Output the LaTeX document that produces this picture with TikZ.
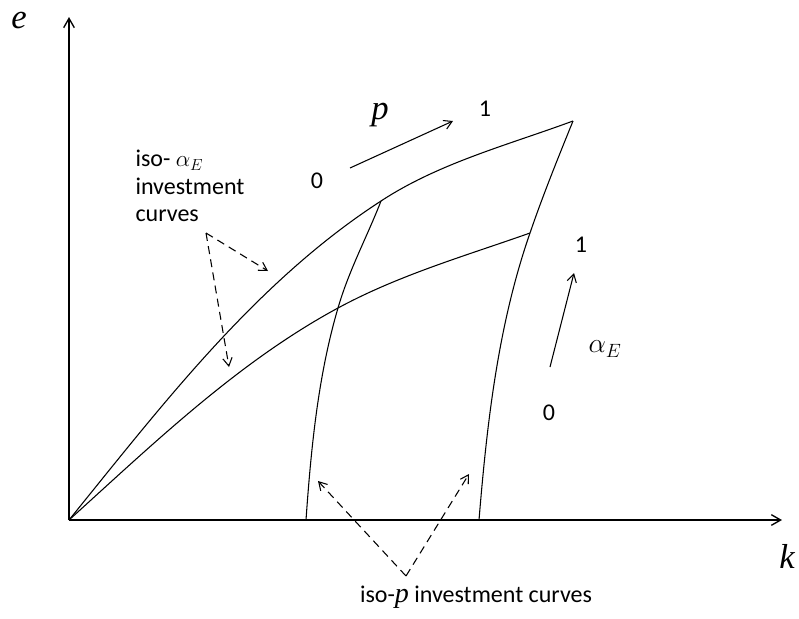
\documentclass[tikz,border=0pt]{standalone}
\usepackage[no-math]{fontspec}
\setmainfont{Carlito}
\newfontfamily\varfont{Liberation Serif}
\usetikzlibrary{arrows.meta}
\tikzset{
  every picture/.style={line width=0.8pt},
  axis/.style={-{Straight Barb[length=7pt,width=8pt]}, line width=1pt},
  curve/.style={line width=0.8pt},
  move/.style={-{Straight Barb[length=6pt,width=7pt]}, line width=0.8pt},
  pointer/.style={dash pattern=on 6pt off 4pt, -{Straight Barb[length=6pt,width=7pt]}, line width=0.8pt},
  lbl/.style={font=\fontsize{18}{20.5}\selectfont, inner sep=0pt},
  var/.style={font=\fontsize{26}{30}\varfont\itshape, inner sep=0pt},
}

\begin{document}
\begin{tikzpicture}[x=0.75pt, y=-0.75pt]
  \useasboundingbox (0,0) rectangle (799,618);
  % axes
  \coordinate (O) at (69,520);
  \coordinate (ytop) at (69,17);
  \coordinate (xend) at (782,520);
  \draw[axis] (O) -- (ytop);
  \draw[axis] (O) -- (xend);
  \node[var] (e) at (19,20) {e};
  \node[var] (k) at (787,556) {k};
  % corners of the mesh
  \coordinate (top) at (573,121);
  \coordinate (ul) at (381,201);
  \coordinate (ll) at (338,308);
  \coordinate (lr) at (530,233);
  \coordinate (bl) at (306,520);
  \coordinate (br) at (479,520);
  % iso-alpha curves
  \draw[curve] (O) .. controls (163,404) and (256,282) .. (ul)
                   .. controls (439,163) and (508,145) .. (top);
  \draw[curve] (O) .. controls (153,444) and (238,362) .. (ll)
                   .. controls (399,275) and (465,256) .. (lr);
  % iso-p curves
  \draw[curve] (bl) .. controls (311,449) and (318,376) .. (ll)
                    .. controls (349,270) and (367,237) .. (ul);
  \draw[curve] (br) .. controls (487,423) and (498,325) .. (lr)
                    .. controls (543,195) and (558,158) .. (top);
  % direction of p
  \coordinate (p0) at (350,168);
  \coordinate (p1) at (453,121);
  \draw[move] (p0) -- (p1);
  \node[lbl] (pzero) at (317,181) {0};
  \node[lbl] (pone) at (485,109) {1};
  \node[var] (plbl) at (380,115) {p};
  % direction of alpha
  \coordinate (a0) at (550,367);
  \coordinate (a1) at (574,273);
  \draw[move] (a0) -- (a1);
  \node[lbl] (azero) at (549,413) {0};
  \node[lbl] (aone) at (581,245) {1};
  \node[lbl, font=\fontsize{20}{22}\selectfont] (albl) at (605,349) {$\alpha_E$};
  % labels with pointers
  \node[lbl, align=left, anchor=west] (isoa) at (135,186) {iso- $\alpha_E$\\investment\\curves};
  \coordinate (va) at (206,233);
  \coordinate (vaA) at (268,271);
  \coordinate (vaB) at (229,367);
  \draw[pointer] (va) -- (vaA);
  \draw[pointer] (va) -- (vaB);
  \node[lbl] (isop) at (476,597) {iso-{\varfont\itshape\fontsize{21}{22}\selectfont p} investment curves};
  \coordinate (vp) at (406,576);
  \coordinate (vpA) at (318,481);
  \coordinate (vpB) at (469,474);
  \draw[pointer] (vp) -- (vpA);
  \draw[pointer] (vp) -- (vpB);
\end{tikzpicture}
\end{document}
